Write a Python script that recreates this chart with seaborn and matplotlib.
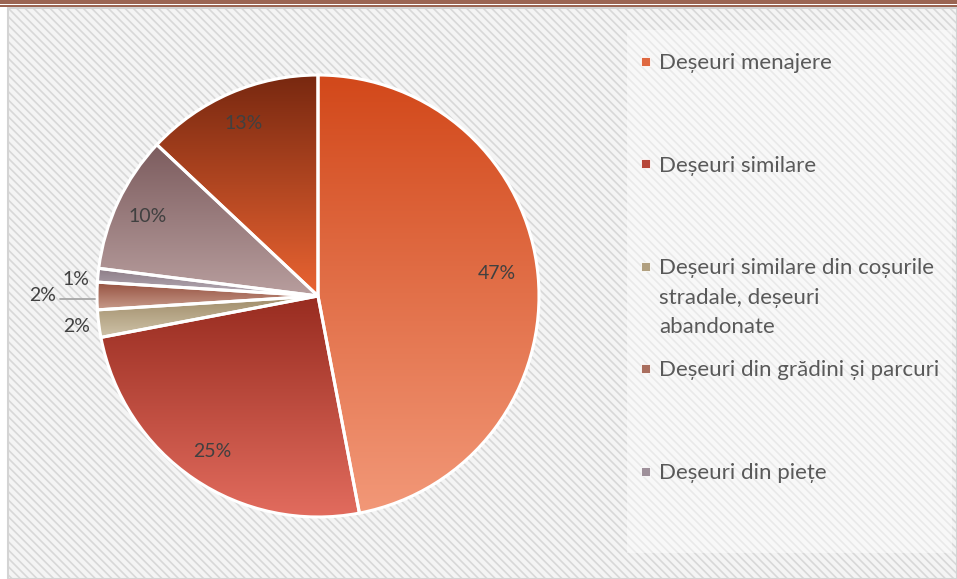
import numpy as np
import matplotlib
matplotlib.use("Agg")
import matplotlib.pyplot as plt
import seaborn as sns
from matplotlib.colors import LinearSegmentedColormap
from matplotlib.patches import Rectangle

# Share of each waste stream (%), clockwise from 12 o'clock
shares = [47, 25, 2, 2, 1, 10, 13]
# Only the first five names are visible in the legend
legend_names = [
    "Deșeuri menajere",
    "Deșeuri similare",
    "Deșeuri similare din coșurile\nstradale, deșeuri\nabandonate",
    "Deșeuri din grădini și parcuri",
    "Deșeuri din piețe",
]
# Vertical gradient per slice (top colour -> bottom colour)
top_colors = ["#D2481A", "#982C20", "#9E8A66", "#95503F", "#8C7C86", "#7C5C5E", "#782810"]
bottom_colors = ["#F29878", "#E26C5E", "#CEC2A8", "#C89C8C", "#B8AEB8", "#B89E9E", "#EA6432"]

sns.set_theme(style="white")
plt.rcParams["font.family"] = ["Lato", "DejaVu Sans"]
plt.rcParams["hatch.linewidth"] = 1.2

W, H = 957, 579
fig = plt.figure(figsize=(W / 100, H / 100), dpi=100)

# Background in pixel coordinates
bg = fig.add_axes([0, 0, 1, 1])
bg.set_xlim(0, W)
bg.set_ylim(H, 0)
bg.axis("off")
bg.add_patch(Rectangle((8, 8), W - 8, H - 8, facecolor="#F4F4F4",
                       edgecolor="#D8D8D8", hatch="\\\\\\\\", lw=0))
bg.add_patch(Rectangle((8, 8), W - 8, H - 8, fill=False, edgecolor="#D4D4D4", lw=1.5))
bg.add_patch(Rectangle((627, 30), 325, 523, facecolor=(1, 1, 1, 0.45), lw=0))
bg.add_patch(Rectangle((0, 0), W, 4, facecolor="#9B6553", lw=0))
bg.add_patch(Rectangle((0, 5), W, 2.2, facecolor="#9B6553", lw=0))

# Pie axes: centre (318, 296) px, radius 221 px
cx, cy, r = 318, 296, 221
lim = 1.05
ax = fig.add_axes([(cx - r * lim) / W, (H - cy - r * lim) / H,
                   2 * r * lim / W, 2 * r * lim / H])
wedges, _, autotexts = ax.pie(
    shares, startangle=90, counterclock=False,
    autopct="%1.0f%%", pctdistance=0.85,
    wedgeprops=dict(edgecolor="white", linewidth=2.2),
    textprops=dict(color="#404040", fontsize=14),
)

grad = np.linspace(0, 1, 256).reshape(-1, 1)
for w, c0, c1 in zip(wedges, top_colors, bottom_colors):
    ext = w.get_path().get_extents()
    cmap = LinearSegmentedColormap.from_list("g", [c0, c1])
    im = ax.imshow(grad, cmap=cmap, extent=[ext.x0, ext.x1, ext.y0, ext.y1],
                   origin="upper", aspect="auto", zorder=0.5)
    im.set_clip_path(w)
    w.set_facecolor("none")
    w.set_zorder(1)

# Small slices: labels outside the pie
for i, dist in [(2, 1.10), (3, 1.245), (4, 1.10)]:
    w = wedges[i]
    th = np.deg2rad((w.theta1 + w.theta2) / 2)
    if i == 4:
        th = np.deg2rad(176)
    autotexts[i].set_position((dist * np.cos(th), dist * np.sin(th)))
th = np.deg2rad((wedges[3].theta1 + wedges[3].theta2) / 2)
ax.plot([1.01 * np.cos(th), 1.167 * np.cos(th)], [1.01 * np.sin(th) - 0.014, 1.167 * np.sin(th) - 0.014],
        color="#A6A6A6", lw=1.3, zorder=2, clip_on=False)
autotexts[0].set_position((0.81, 0.1))

ax.set_xlim(-lim, lim)
ax.set_ylim(-lim, lim)
ax.axis("off")

# Legend, entries spaced evenly by first line
for k, name in enumerate(legend_names):
    y = 61 + k * 102.5
    col = LinearSegmentedColormap.from_list("g", [top_colors[k], bottom_colors[k]])(0.4)
    bg.add_patch(Rectangle((641, y - 4.5), 9, 9, facecolor=col, edgecolor="white", lw=0.6))
    bg.text(659, y - 8, name, va="top", ha="left", fontsize=16, color="#595959",
            linespacing=1.6)

fig.savefig("out.png", dpi=100)
